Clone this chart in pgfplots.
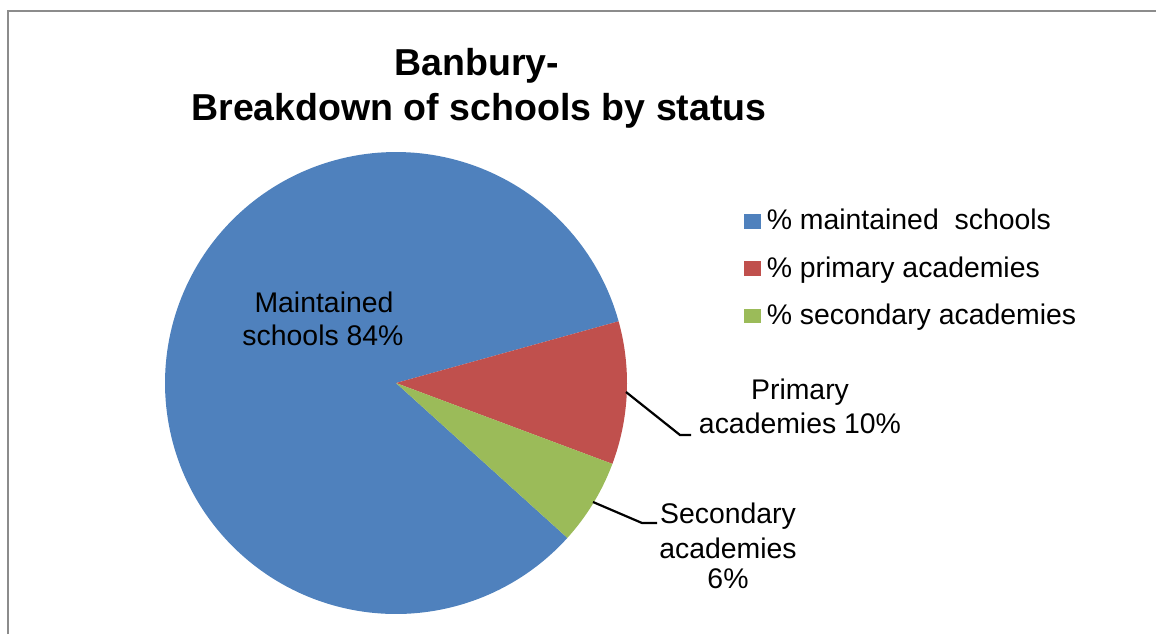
\documentclass[border=0pt]{standalone}
\usepackage{pgfplots}
\pgfplotsset{compat=1.18}
\usepackage{fontspec}
\setmainfont{Liberation Sans}
\definecolor{cBlue}{HTML}{4F81BD}
\definecolor{cRed}{HTML}{C0504D}
\definecolor{cGreen}{HTML}{9BBB59}
\definecolor{cFrame}{HTML}{8C8C8C}
% data (percent)
\def\pMaint{84}
\def\pPrim{10}
\def\pSec{6}
\def\startAng{15.5}
\pgfmathsetmacro{\aPrimLo}{\startAng-3.6*\pPrim}
\pgfmathsetmacro{\aSecLo}{\aPrimLo-3.6*\pSec}
\pgfmathsetmacro{\aMaintHi}{\startAng+3.6*\pMaint}
\newcommand{\lbl}{\fontsize{14.2}{17}\selectfont}
\begin{document}
\begin{tikzpicture}
\begin{axis}[
  scale only axis, width=578pt, height=317pt,
  xmin=0, xmax=1156, ymin=0, ymax=634, y dir=reverse,
  hide axis, clip=false,
  legend style={at={(axis cs:744,205)}, anchor=north west, draw=none, fill=none,
    inner sep=0pt, row sep=7.9pt, font=\lbl,
    cells={anchor=west}, nodes={inner xsep=3pt}},
  legend image code/.code={\fill[#1] (0pt,-3.7pt) rectangle (8.2pt,3.7pt);},
]
\addplot[fill=cBlue, draw=none, domain=\startAng:\aMaintHi, samples=200, variable=\t]
  ({396+231*cos(\t)},{383-231*sin(\t)}) -- (axis cs:396,383) -- cycle;
\addlegendentry{\% maintained\ \ schools}
\addplot[fill=cRed, draw=none, domain=\aPrimLo:\startAng, samples=40, variable=\t]
  ({396+231*cos(\t)},{383-231*sin(\t)}) -- (axis cs:396,383) -- cycle;
\addlegendentry{\% primary academies}
\addplot[fill=cGreen, draw=none, domain=\aSecLo:\aPrimLo, samples=30, variable=\t]
  ({396+231*cos(\t)},{383-231*sin(\t)}) -- (axis cs:396,383) -- cycle;
\addlegendentry{\% secondary academies}

% frame
\draw[cFrame, line width=1.4pt] (axis cs:8,634) -- (axis cs:8,11) -- (axis cs:1156,11);

% title
\node[anchor=base, font=\fontsize{18.75}{22}\selectfont\bfseries] at (axis cs:477,75) {Banbury-};
\node[anchor=base, font=\fontsize{18.75}{22}\selectfont\bfseries] at (axis cs:479,120) {Breakdown of schools by status};

% data labels
\node[anchor=base, font=\lbl] at (axis cs:324,312) {Maintained};
\node[anchor=base, font=\lbl] at (axis cs:323,345) {schools 84\%};

\node[anchor=base, font=\lbl] at (axis cs:800,399) {Primary};
\node[anchor=base, font=\lbl] at (axis cs:800,433) {academies 10\%};
\draw[black, line width=1.1pt] (axis cs:626,392) -- (axis cs:680,435) -- (axis cs:691,435);

\node[anchor=base, font=\lbl] at (axis cs:728,523) {Secondary};
\node[anchor=base, font=\lbl] at (axis cs:728,558) {academies};
\node[anchor=base, font=\lbl] at (axis cs:728,588) {6\%};
\draw[black, line width=1.1pt] (axis cs:593,502) -- (axis cs:642,523) -- (axis cs:657,523);
\end{axis}
\pgfresetboundingbox
\path[use as bounding box] (0,0) rectangle (578pt,317pt);
\end{tikzpicture}
\end{document}
